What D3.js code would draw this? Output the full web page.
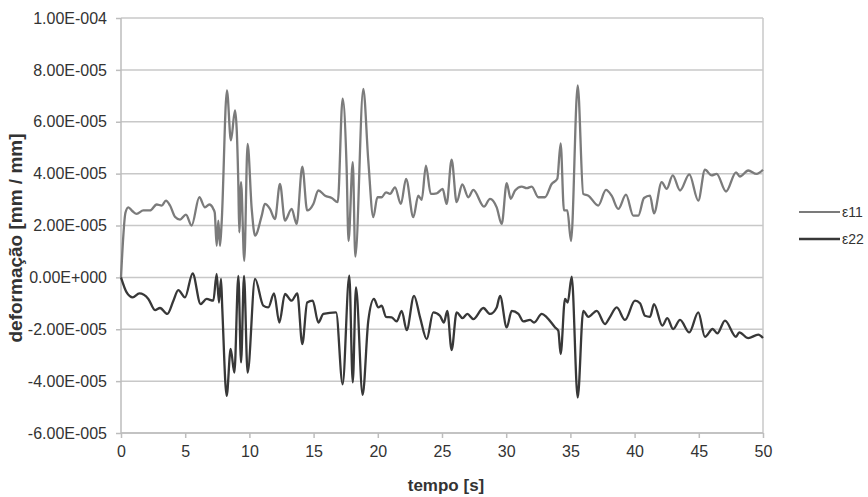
<!DOCTYPE html>
<html>
<head>
<meta charset="utf-8">
<script src="https://cdn.jsdelivr.net/npm/d3@7"></script>
<style>
  body { margin: 0; background: #fff; }
  svg text { font-family: "Liberation Sans", Arial, sans-serif; fill: #333; }
</style>
</head>
<body>
<div id="chart"></div>
<script>
// values in units of 1e-5 mm/mm
var UNIT = 1e-5;

var e11 = [[0,0],[0.35,2.5],[0.57,2.70],[0.9,2.55],[1.22,2.45],[1.74,2.58],[2.26,2.58],[2.78,2.81],[3.17,2.77],[3.5,2.96],[3.82,2.77],[4.2,2.34],[4.6,2.23],[5.06,2.42],[5.5,2.0],[6.1,3.09],[6.54,2.70],[6.88,2.81],[7.19,2.64],[7.3,2.5],[7.45,1.22],[7.58,2.19],[7.71,1.22],[7.84,2.12],[8.25,7.21],[8.56,5.28],[8.88,6.44],[9.14,3.54],[9.21,1.74],[9.35,3.67],[9.6,0.64],[9.86,5.15],[10.18,2.64],[10.44,1.61],[10.96,2.38],[11.2,2.83],[11.6,2.64],[11.99,2.25],[12.38,3.6],[12.77,2.19],[13.29,2.64],[13.68,2.06],[14.12,4.27],[14.5,2.58],[14.98,2.83],[15.37,3.35],[15.9,3.15],[16.41,3.06],[16.88,2.90],[17.26,6.89],[17.57,4.25],[17.72,1.4],[18.05,4.44],[18.25,0.8],[18.87,7.27],[19.26,4.5],[19.65,2.32],[19.97,3.09],[20.3,3.09],[20.64,3.28],[20.95,3.22],[21.34,3.47],[21.8,2.83],[22.2,3.8],[22.77,2.32],[23.15,3.15],[23.42,2.99],[23.75,4.31],[24.12,3.22],[24.59,3.24],[25.05,3.41],[25.36,2.83],[25.75,4.54],[26.14,2.90],[26.58,3.58],[27.05,3.09],[27.44,3.37],[28.27,2.73],[28.74,3.03],[29.26,2.70],[29.65,2.06],[30.04,3.63],[30.35,3.03],[30.69,3.35],[31.21,3.5],[31.6,3.44],[31.99,3.5],[32.5,3.09],[33.02,3.09],[33.54,3.6],[33.98,3.8],[34.24,5.17],[34.5,2.58],[34.76,2.58],[35.05,1.4],[35.57,7.40],[36.0,3.22],[36.4,3.15],[37.17,2.77],[37.77,3.37],[38.21,3.15],[38.73,2.64],[39.33,3.19],[39.9,2.38],[40.29,2.38],[40.73,3.06],[41.2,3.15],[41.51,2.47],[42.11,3.67],[42.5,3.41],[42.97,3.93],[43.54,3.35],[44.26,3.97],[44.96,2.96],[45.48,4.15],[46.0,3.93],[46.39,3.99],[47.12,3.31],[47.9,4.05],[48.2,3.89],[48.85,4.12],[49.5,3.99],[50,4.15]];

var e22 = [[0,0],[0.44,-0.58],[0.91,-0.77],[1.43,-0.62],[2.13,-0.83],[2.65,-1.26],[3.04,-1.18],[3.61,-1.41],[4.08,-0.9],[4.46,-0.49],[4.98,-0.77],[5.58,0.15],[6.2,-1.03],[6.67,-0.83],[7.19,-0.9],[7.45,0.13],[7.63,-0.97],[7.79,-0.06],[7.89,-1.22],[8.23,-4.57],[8.54,-2.76],[8.83,-3.67],[9.14,0.06],[9.35,-3.28],[9.58,0.06],[9.86,-3.67],[10.44,-0.06],[11.08,-1.09],[11.47,-1.16],[11.92,-0.62],[12.33,-1.74],[12.77,-0.64],[13.29,-0.9],[13.73,-0.62],[14.12,-2.57],[14.5,-0.97],[14.93,-0.9],[15.37,-1.74],[15.76,-1.41],[16.75,-1.35],[17.26,-4.12],[17.78,0.07],[18.05,-4.05],[18.3,-0.39],[18.82,-4.53],[19.26,-1.67],[19.7,-0.83],[20.04,-1.16],[20.3,-1.09],[20.64,-1.52],[21.08,-1.54],[21.47,-1.7],[21.86,-1.29],[22.25,-2.03],[22.82,-0.71],[23.29,-1.54],[23.81,-2.38],[24.32,-1.35],[24.84,-1.48],[25.15,-1.74],[25.41,-1.29],[25.75,-2.80],[26.14,-1.35],[26.6,-1.57],[26.97,-1.41],[27.44,-1.61],[28.22,-1.18],[28.74,-1.41],[29.26,-1.16],[29.52,-0.71],[30.04,-1.93],[30.43,-1.29],[30.95,-1.41],[31.34,-1.7],[31.86,-1.64],[32.17,-1.74],[32.77,-1.41],[33.16,-1.54],[33.81,-1.93],[34.06,-2.06],[34.24,-2.96],[34.58,-0.83],[34.79,-0.97],[35.1,0.03],[35.57,-4.63],[36.0,-1.29],[36.4,-1.52],[37.05,-1.29],[37.7,-1.8],[38.03,-1.57],[38.61,-1.16],[39.25,-1.64],[40.03,-0.9],[40.42,-1.0],[40.81,-1.48],[41.2,-1.52],[41.51,-1.03],[42.16,-1.86],[42.55,-1.57],[43.0,-1.99],[43.54,-1.64],[44.26,-2.12],[44.96,-1.35],[45.48,-2.29],[46.08,-1.99],[46.44,-2.16],[47.04,-1.67],[47.9,-2.29],[48.15,-2.12],[48.85,-2.34],[49.63,-2.21],[50,-2.34]];

var xTicks = [0, 5, 10, 15, 20, 25, 30, 35, 40, 45, 50];
var yTicks = [-6, -4, -2, 0, 2, 4, 6, 8, 10];
var seriesNames = ["\u03b511", "\u03b522"];
var seriesColors = ["#7b7b7b", "#383838"];

var WIDTH = 868, HEIGHT = 497;
var margin = {left: 121, right: 105, top: 18, bottom: 64};

var svg = d3.select("#chart").append("svg")
    .attr("width", WIDTH)
    .attr("height", HEIGHT);

var x = d3.scaleLinear().domain([0, 50]).range([margin.left, WIDTH - margin.right]);
var y = d3.scaleLinear().domain([-6 * UNIT, 10 * UNIT]).range([HEIGHT - margin.bottom, margin.top]);

function sciLabel(v) {
    if (v === 0) return "0.00E+000";
    var parts = v.toExponential(2).split("e");
    var ex = +parts[1];
    return parts[0] + "E" + (ex < 0 ? "-" : "+") + String(Math.abs(ex)).padStart(3, "0");
}

// horizontal grid
svg.append("g").selectAll("line")
    .data(yTicks).enter().append("line")
    .attr("x1", x(0)).attr("x2", x(50))
    .attr("y1", function (d) { return y(d * UNIT); })
    .attr("y2", function (d) { return y(d * UNIT); })
    .attr("stroke", "#c8c8c8").attr("stroke-width", 1.5);

// right border
svg.append("line")
    .attr("x1", x(50)).attr("x2", x(50))
    .attr("y1", y(10 * UNIT)).attr("y2", y(-6 * UNIT))
    .attr("stroke", "#c8c8c8").attr("stroke-width", 1.5);

var yAxis = svg.append("g")
    .attr("transform", "translate(" + x(0) + ",0)")
    .call(d3.axisLeft(y).tickValues(yTicks.map(function (d) { return d * UNIT; }))
        .tickFormat(sciLabel).tickSize(5).tickPadding(9));

var xAxis = svg.append("g")
    .attr("transform", "translate(0," + y(-6 * UNIT) + ")")
    .call(d3.axisBottom(x).tickValues(xTicks).tickSize(5).tickPadding(8));

[yAxis, xAxis].forEach(function (g) {
    g.selectAll("path, line").attr("stroke", "#bdbdbd").attr("stroke-width", 1.5);
    g.selectAll("text").style("font-size", "16px").attr("fill", "#333");
});
xAxis.select(".domain").attr("d", "M" + x(0) + ",0H" + x(50));
yAxis.select(".domain").attr("d", "M0," + y(10 * UNIT) + "V" + y(-6 * UNIT));

var line = d3.line()
    .curve(d3.curveMonotoneX)
    .x(function (d) { return x(d[0]); })
    .y(function (d) { return y(d[1] * UNIT); });

[e11, e22].forEach(function (s, i) {
    svg.append("path")
        .datum(s)
        .attr("d", line)
        .attr("fill", "none")
        .attr("stroke", seriesColors[i])
        .attr("stroke-width", 2.3)
        .attr("stroke-linejoin", "round");
});

// axis titles
svg.append("text")
    .attr("x", 446).attr("y", 491)
    .attr("text-anchor", "middle")
    .style("font-size", "17px").style("font-weight", "bold")
    .text("tempo [s]");

svg.append("text")
    .attr("transform", "translate(22,238)rotate(-90)")
    .attr("text-anchor", "middle")
    .style("font-size", "19px").style("font-weight", "bold")
    .text("deforma\u00e7\u00e3o [mm / mm]");

// legend
var legend = svg.append("g").selectAll("g")
    .data(seriesNames).enter().append("g")
    .attr("transform", function (d, i) { return "translate(799," + (212 + i * 27) + ")"; });
legend.append("line")
    .attr("x1", 0).attr("x2", 41)
    .attr("stroke", function (d, i) { return seriesColors[i]; })
    .attr("stroke-width", function (d, i) { return i === 0 ? 2 : 2.6; });
legend.append("text")
    .attr("x", 43).attr("y", 5)
    .style("font-size", "14px")
    .text(function (d) { return d; });
</script>
</body>
</html>
